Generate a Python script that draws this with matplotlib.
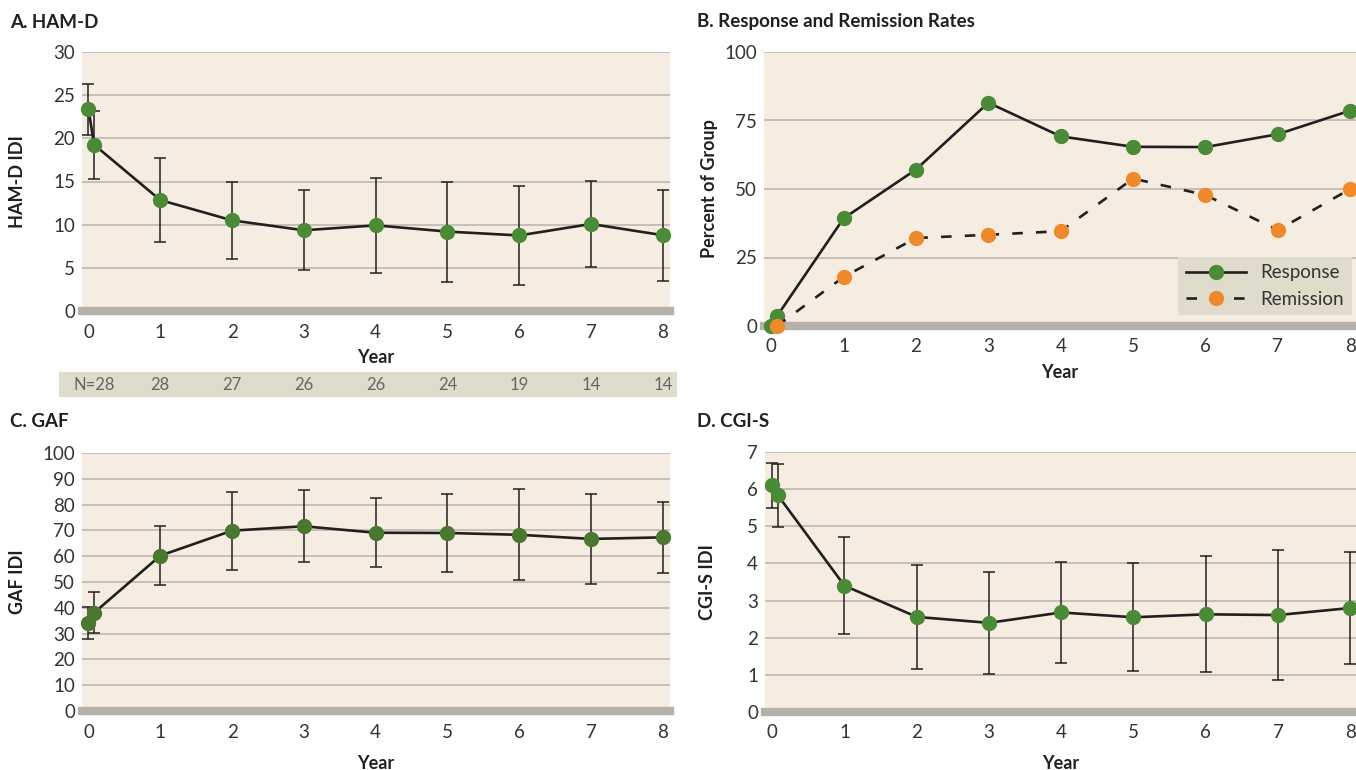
import matplotlib
matplotlib.use("Agg")
import matplotlib.pyplot as plt
from matplotlib.patches import Rectangle
import numpy as np

plt.rcParams['font.family'] = ['Lato', 'DejaVu Sans']

# years (two baseline points close together at year 0)
years = [0, 0.08, 1, 2, 3, 4, 5, 6, 7, 8]
ticks = [0, 1, 2, 3, 4, 5, 6, 7, 8]

# A. HAM-D
hamd_mean = [23.35, 19.25, 12.85, 10.5, 9.35, 9.92, 9.2, 8.75, 10.08, 8.78]
hamd_sd = [2.95, 3.95, 4.87, 4.5, 4.65, 5.48, 5.8, 5.7, 4.98, 5.28]
n_labels = ["N=28", "28", "27", "26", "26", "24", "19", "14", "14"]

# B. response / remission
resp_x = [0, 0.08, 1, 2, 3, 4, 5, 6, 7, 8]
resp_pct = [0, 3.6, 39.3, 57.1, 81.5, 69.2, 65.4, 65.3, 70.0, 78.6]
remi_x = [0.08, 1, 2, 3, 4, 5, 6, 7, 8]
remi_pct = [0, 17.9, 32.1, 33.3, 34.6, 53.8, 47.8, 35.0, 50.0]

# C. GAF
gaf_mean = [34.3, 38.1, 60.2, 69.9, 71.6, 69.1, 69.0, 68.3, 66.7, 67.3]
gaf_sd = [6.2, 7.9, 11.5, 15.1, 13.9, 13.3, 15.2, 17.6, 17.6, 13.9]

# D. CGI-S
cgi_mean = [6.10, 5.83, 3.40, 2.56, 2.40, 2.68, 2.55, 2.63, 2.61, 2.80]
cgi_sd = [0.61, 0.84, 1.30, 1.40, 1.37, 1.36, 1.45, 1.56, 1.74, 1.52]

bg = '#f5ede1'
grid_c = '#c4bcb4'
bar_c = '#b5b0aa'
green = '#4b8a36'
green_dark = '#4a7830'
orange = '#ee8a2b'
ink = '#231f20'
tick_c = '#333333'

W, H = 1356, 770
fig = plt.figure(figsize=(W / 100, H / 100), dpi=100)


def px_axes(l, t, r, b):
    return fig.add_axes([l / W, 1 - b / H, (r - l) / W, (b - t) / H])


def style(ax, ymax, step, xl, yl, ylab_x, xlab_y):
    ax.set_facecolor(bg)
    ax.set_ylim(0, ymax)
    ax.set_xlim(xl)
    ax.set_yticks(np.arange(0, ymax + 0.01, step))
    ax.set_xticks(ticks)
    ax.grid(axis='y', color=grid_c, linewidth=1.3)
    ax.set_axisbelow(True)
    for s in ['top', 'right', 'left']:
        ax.spines[s].set_visible(False)
    ax.spines['bottom'].set_color(bar_c)
    ax.spines['bottom'].set_linewidth(6)
    ax.tick_params(length=0, labelsize=13.5, colors=tick_c)
    ax.tick_params(axis='x', pad=9)
    ax.tick_params(axis='y', pad=5)
    ax.set_ylabel(yl, fontsize=13, fontweight='bold', color=ink)
    ax.yaxis.set_label_coords(ylab_x, 0.5)
    ax.set_xlabel("Year", fontsize=13, fontweight='bold', color=ink)
    ax.xaxis.set_label_coords(0.5, xlab_y)


def err_panel(ax, mean, sd, color):
    ax.errorbar(years, mean, yerr=sd, fmt='none', ecolor=ink, elinewidth=1.1,
                capsize=4, capthick=1.1, zorder=3, clip_on=False)
    ax.plot(years, mean, '-o', color=ink, lw=1.9, markersize=10,
            markerfacecolor=color, markeredgecolor=color, zorder=4, clip_on=False)


# A
axA = px_axes(82, 52, 670, 311)
style(axA, 30, 5, (-0.09, 8.1), "HAM-D IDI", -0.095, -0.145)
err_panel(axA, hamd_mean, hamd_sd, green)

# N row under panel A
fig.patches.append(Rectangle((59 / W, 1 - 397 / H), 618 / W, 25 / H,
                             transform=fig.transFigure, facecolor='#e0dccb',
                             edgecolor='none', zorder=0))
for i, t in enumerate(n_labels):
    xd = 0.08 if i == 0 else ticks[i]
    xf = fig.transFigure.inverted().transform(axA.transData.transform((xd, 0)))[0]
    fig.text(xf, 1 - 384.5 / H, t, ha='center', va='center', fontsize=12,
             color='#666666')

# B
axB = px_axes(764, 52, 1356, 326)
style(axB, 100, 25, (-0.1, 8.08), "Percent of Group", -0.078, -0.14)
axB.plot(resp_x, resp_pct, '-o', color=ink, lw=1.9, markersize=10,
         markerfacecolor=green, markeredgecolor=green, zorder=4, clip_on=False,
         label="Response")
axB.plot(remi_x, remi_pct, 'o', color=ink, lw=1.9, markersize=10,
         linestyle=(0, (4, 5)), markerfacecolor=orange, markeredgecolor=orange,
         zorder=5, clip_on=False, label="Remission")
leg = axB.legend(loc='lower right', bbox_to_anchor=(0.993, 0.04), borderaxespad=0,
                 frameon=True, fancybox=False, handlelength=3.2,
                 prop={'family': ['Lato', 'DejaVu Sans'], 'size': 13.5})
leg.get_frame().set_facecolor('#e0dccb')
leg.get_frame().set_edgecolor('none')
leg.get_frame().set_alpha(1)
for t in leg.get_texts():
    t.set_color(tick_c)

# C
axC = px_axes(82, 453, 670, 711)
style(axC, 100, 10, (-0.09, 8.1), "GAF IDI", -0.095, -0.17)
err_panel(axC, gaf_mean, gaf_sd, green_dark)

# D
axD = px_axes(765, 452, 1356, 712)
style(axD, 7, 1, (-0.1, 8.08), "CGI-S IDI", -0.083, -0.165)
err_panel(axD, cgi_mean, cgi_sd, green)

# panel titles
for x, y, t in [(10, 22, "A. HAM-D"), (697, 22, "B. Response and Remission Rates"),
                (10, 422, "C. GAF"), (697, 422, "D. CGI-S")]:
    fig.text(x / W, 1 - y / H, t, ha='left', va='center', fontsize=13.5,
             fontweight='bold', color=ink)

fig.savefig("out.png", dpi=100, facecolor='white')
